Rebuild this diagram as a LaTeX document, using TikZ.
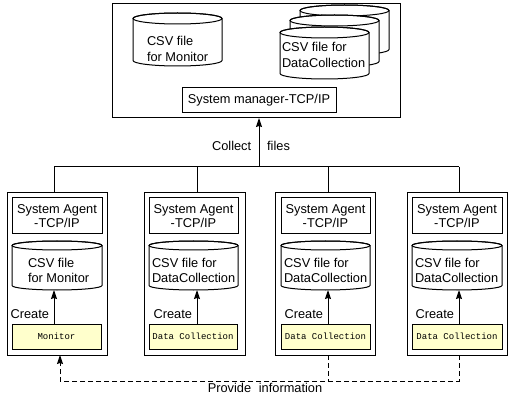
\documentclass[tikz,border=0pt]{standalone}
\usepackage{fontspec}
\setmainfont{Liberation Sans}
\newfontfamily\smallmono{Liberation Mono}
\usetikzlibrary{arrows.meta}
\definecolor{ylw}{RGB}{255,255,204}
\newcommand\mycyl[6]{%
  \pgfmathsetmacro\cylcx{(#1+#2)/2}%
  \pgfmathsetmacro\cylrx{(#2-#1)/2}%
  \filldraw[fill=white] (#1,#3+#5) -- (#1,#4-#5)
    arc[start angle=180,end angle=360,x radius=\cylrx pt,y radius=#5pt]
    -- (#2,#3+#5)
    arc[start angle=0,end angle=180,x radius=\cylrx pt,y radius=#5pt] -- cycle;
  \draw (\cylcx,#3+#5) ellipse[x radius=\cylrx pt,y radius=#5pt];
  \path (#1,#3) coordinate (#6-nw) (#2,#4) coordinate (#6-se)
        (\cylcx,#4) coordinate (#6-s);
}
\begin{document}
\begin{tikzpicture}[x=1pt,y=-1pt,line width=1pt,
  every node/.style={inner sep=0pt,outer sep=0pt},
  frame/.style={draw,anchor=north west},
  lbl/.style={font=\fontsize{12.8}{14}\selectfont,align=center},
  cyltext/.style={font=\fontsize{12.8}{16}\selectfont,align=left,anchor=base west},
  plain/.style={font=\fontsize{12.8}{14}\selectfont},
  ybox/.style={draw,fill=ylw,anchor=north west},
  yfont/.style={font=\smallmono\fontsize{9}{10}\selectfont},
  arr/.style={-{Stealth[length=9pt,width=6pt,inset=1pt]}},
  dsh/.style={dash pattern=on 5pt off 3pt}
]
\useasboundingbox (0,0) rectangle (512,401);

% ---------- top box ----------
\node[frame,minimum width=288pt,minimum height=114pt] (top) at (112,4) {};
\mycyl{133}{222}{13}{66}{5.5}{cm}
\node[cyltext] (tm) at (147,62) {CSV file\\for Monitor};
\mycyl{300}{389}{5}{55}{5.5}{cb3}
\mycyl{290}{379}{15}{67}{5.5}{cb2}
\mycyl{280}{369}{27}{79}{5.5}{cb1}
\node[cyltext] (td) at (282,68) {CSV file for\\DataCollection};
\node[frame,minimum width=154pt,minimum height=25pt] (mgr) at (182,88) {};
\node[lbl] (mgrt) at (mgr.center) {System manager-TCP/IP};

% ---------- bus ----------
\coordinate (k1) at (54,167);
\coordinate (k2) at (197,167);
\coordinate (k3) at (328,167);
\coordinate (k4) at (459,167);
\coordinate (hub) at (259,167);
\node[plain] (coll) at (251,146) {Collect\hspace{1.25em}files};

% ---------- agent boxes ----------
\node[frame,minimum width=100pt,minimum height=162pt] (A1) at (7,193) {};
\node[frame,minimum width=101pt,minimum height=162pt] (A2) at (144,193) {};
\node[frame,minimum width=100pt,minimum height=162pt] (A3) at (275,193) {};
\node[frame,minimum width=100pt,minimum height=162pt] (A4) at (407,193) {};

\node[frame,minimum width=90pt,minimum height=36pt] (S1) at (12,198) {};
\node[frame,minimum width=89pt,minimum height=36pt] (S2) at (149,198) {};
\node[frame,minimum width=89pt,minimum height=36pt] (S3) at (281,198) {};
\node[frame,minimum width=90pt,minimum height=36pt] (S4) at (412,198) {};
\foreach \i in {1,2,3,4}{
  \node[lbl] (S\i t) at (S\i.center) {System Agent\\-TCP/IP};
}

\mycyl{12}{102}{241}{290}{4.5}{c1}
\mycyl{149}{238}{241}{290}{4.5}{c2}
\mycyl{281}{370}{241}{290}{4.5}{c3}
\mycyl{412}{502}{241}{290}{4.5}{c4}
\node[cyltext] (c1t) at (28,283) {CSV file\\for Monitor};
\node[cyltext] (c2t) at (152,283) {CSV file for\\DataCollection};
\node[cyltext] (c3t) at (284,283) {CSV file for\\DataCollection};
\node[cyltext] (c4t) at (415,283) {CSV file for\\DataCollection};

\node[ybox,minimum width=89pt,minimum height=25pt] (Y1) at (12,324) {};
\node[ybox,minimum width=88pt,minimum height=25pt] (Y2) at (149,324) {};
\node[ybox,minimum width=89pt,minimum height=25pt] (Y3) at (281,324) {};
\node[ybox,minimum width=90pt,minimum height=25pt] (Y4) at (412,324) {};
\node[yfont] (Y1t) at (Y1.center) {Monitor};
\node[yfont] (Y2t) at (Y2.center) {Data Collection};
\node[yfont] (Y3t) at (Y3.center) {Data Collection};
\node[yfont] (Y4t) at (Y4.center) {Data Collection};

% create arrows + labels
\foreach \i in {1,2,3,4}{
  \draw[arr] (Y\i.north -| k\i) -- (k\i |- c\i-s);
  \node[plain,anchor=base east] (cr\i) at ([xshift=-5pt]k\i |- 0,318) {Create};
}

% bus lines
\draw (k1) -- (k4);
\foreach \i in {1,2,3,4}{ \draw (k\i) -- (k\i |- A\i.north); }
\draw[arr] (hub) -- (hub |- top.south);

% provide information (dashed)
\coordinate (d1) at (60,381);
\draw[dsh,arr] (A4.south -| k4) |- (d1) -- (d1 |- A1.south);
\draw[dsh] (A3.south -| k3) -- (k3 |- d1);
\node[plain] (prov) at (265,388) {Provide\hspace{0.6em}information};
\end{tikzpicture}
\end{document}
